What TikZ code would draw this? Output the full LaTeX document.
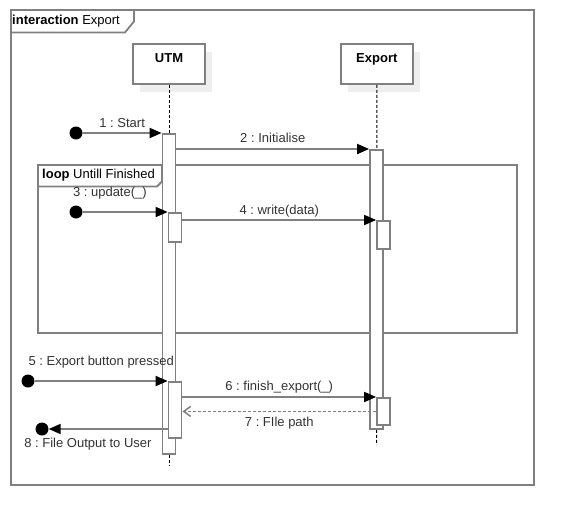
\documentclass[tikz,border=0pt]{standalone}
\usepackage{fontspec}
\setmainfont{Liberation Sans}
\usepackage{tikz}
\usetikzlibrary{arrows.meta, positioning, shadows}
\definecolor{lineGray}{RGB}{128,128,128}
\definecolor{shadowGray}{RGB}{238,238,238}
\definecolor{textGray}{RGB}{50,50,50}
\frenchspacing

\begin{document}
\begin{tikzpicture}[
        x=1pt, y=-1pt,
        font=\fontsize{13}{15}\selectfont,
        frame/.style={rectangle, draw=lineGray, line width=1.8pt, anchor=north west, inner sep=0pt},
        outline/.style={draw=lineGray, line width=1.8pt},
        tag/.style={rectangle, anchor=north west, inner xsep=5pt, inner ysep=0pt, minimum height=22pt, text=black},
        head/.style={rectangle, draw=lineGray, line width=1.8pt, fill=white, minimum width=72pt, minimum height=40pt, inner ysep=4pt, text height=14pt, text depth=18pt, font=\fontsize{13}{15}\selectfont\bfseries, drop shadow={shadow xshift=7pt, shadow yshift=-8pt, opacity=1, fill=shadowGray}},
        bar/.style={rectangle, draw=lineGray, line width=1.8pt, fill=white, minimum width=13pt, inner sep=0pt, anchor=north},
        dot/.style={circle, fill=black, minimum size=13pt, inner sep=0pt},
        lifeline/.style={black, line width=1pt, dash pattern=on 3pt off 2pt},
        msg/.style={lineGray, line width=1.8pt, -{Triangle[length=12pt, width=10pt, color=black]}},
        reply/.style={lineGray, line width=1.5pt, dash pattern=on 3pt off 2pt, -{Straight Barb[length=7pt, width=10pt]}},
        lbl/.style={text=textGray, inner sep=2pt, text height=9.5pt, text depth=2.5pt}
    ]
        \useasboundingbox (0,0) rectangle (573,525);
        \node[frame, minimum width=523pt, minimum height=475pt] (main) at (10,9) {};
        \node[tag, inner xsep=2pt, minimum height=23pt] (maintag) at (main.north west) {\textbf{interaction} Export};
        \draw[outline] ([xshift=12pt]maintag.north east) -- ([xshift=12pt, yshift=11pt]maintag.south east) -- ([xshift=3pt]maintag.south east) -- (maintag.south west);
        \node[frame, minimum width=479pt, minimum height=168pt] (loop) at (37,164) {};
        \node[head] (utm) at (169,64) {UTM};
        \node[head, right=134pt of utm] (export) {Export};
        \coordinate (utmend) at (169,466);
        \coordinate (exportend) at (376.5,445);
        \draw[lifeline] (utm.south) -- (utmend);
        \draw[lifeline] (export.south) -- (exportend);
        \node[tag] (looptag) at (loop.north west) {\textbf{loop} Untill Finished};
        \draw[outline] ([xshift=2pt]looptag.north east) -- ([xshift=2pt, yshift=5pt]looptag.south east) -- ([xshift=-3pt]looptag.south east) -- (looptag.south west);
        \node[bar, minimum height=320pt] (ubar) at (169,133) {};
        \node[bar, minimum height=29pt] (uupd) at (175,212) {};
        \node[bar, minimum height=56pt] (ufin) at (175,381) {};
        \node[bar, minimum height=279pt] (ebar) at (376.5,149) {};
        \node[bar, minimum height=28pt] (ewrite) at (383.5,220) {};
        \node[bar, minimum height=27pt] (efin) at (383.5,397) {};
        \node[dot] (s1) at (76,133) {};
        \node[dot] (s3) at (76,212) {};
        \node[dot] (s5) at (28,381) {};
        \node[dot] (s8) at (42,429) {};
        \draw[msg] (s1) -- node[lbl, above] (l1) {1 : Start} (ubar.north west);
        \draw[msg] (ubar.east |- ebar.north) -- node[lbl, above=1pt] (l2) {2 : Initialise} (ebar.north west);
        \draw[msg] (s3) -- node[lbl, above=10pt, pos=0.32] (l3) {3 : update(\_)} (uupd.north west);
        \draw[msg] (uupd.east |- ewrite.north) -- node[lbl, above] (l4) {4 : write(data)} (ewrite.north west);
        \draw[msg] (s5) -- node[lbl, above=10pt] (l5) {5 : Export button pressed} (ufin.north west);
        \draw[msg] (ufin.east |- efin.north) -- node[lbl, above=1pt] (l6) {6 : finish\_export(\_)} (efin.north west);
        \draw[reply] (efin.west) -- node[lbl, below=3pt] (l7) {7 : FIle path} (efin.west -| ufin.east);
        \draw[msg] (ufin.west |- s8) -- node[lbl, below=6pt, pos=0.67] (l8) {8 : File Output to User} (s8);
    \end{tikzpicture}
\end{document}
